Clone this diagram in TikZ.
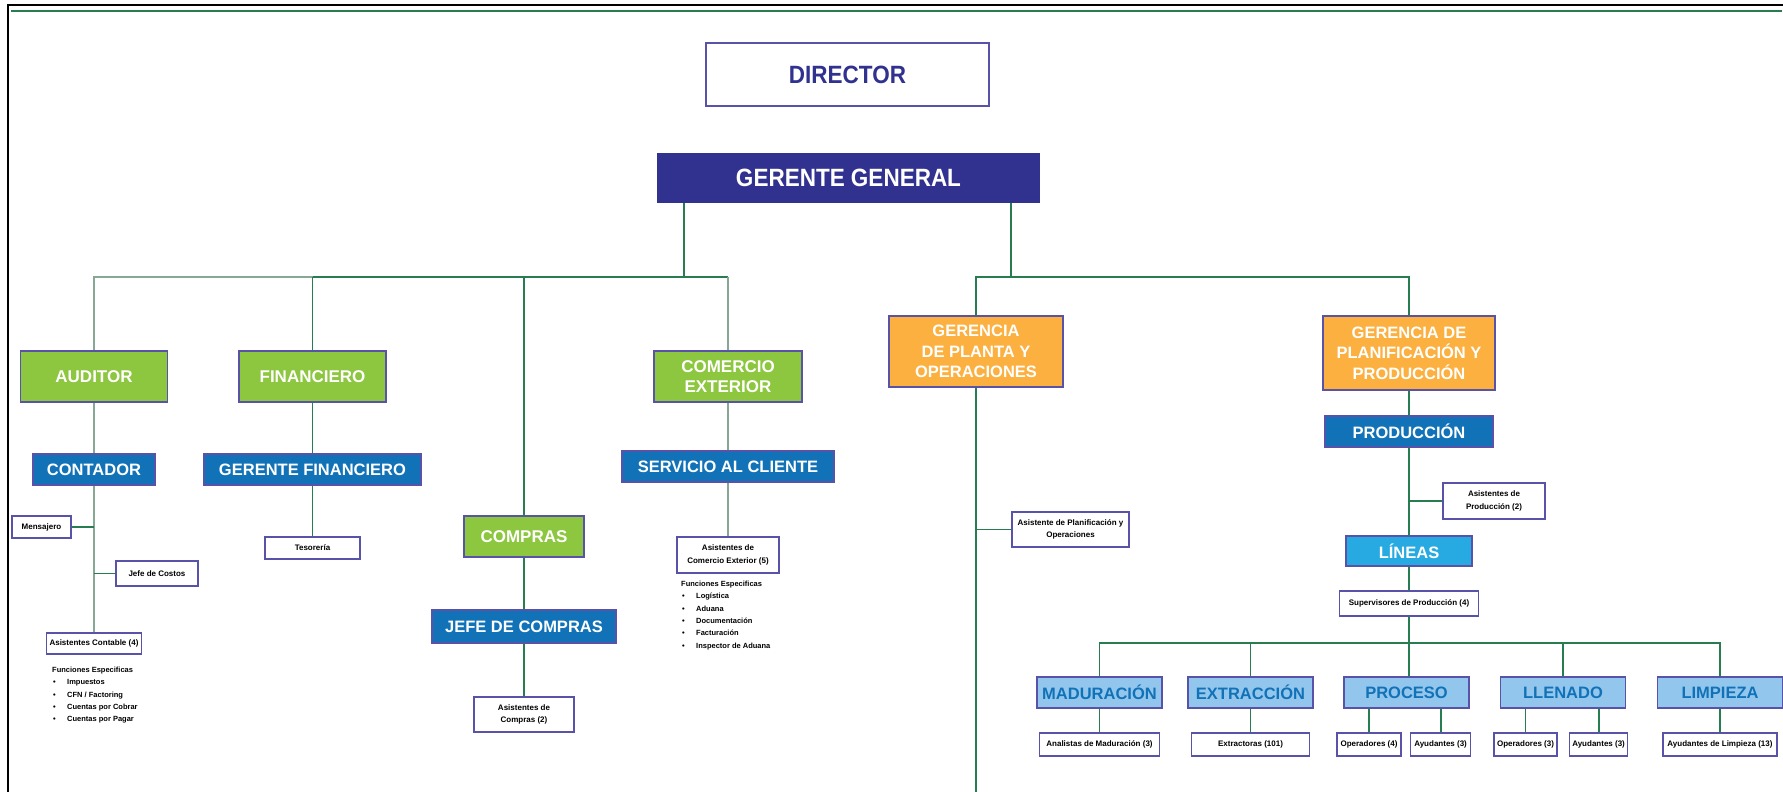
\documentclass[tikz,border=0pt]{standalone}
\usepackage{fontspec}
\setmainfont{Liberation Sans}
\newfontfamily\narrowfont[FakeStretch=0.9]{Liberation Sans}
\usetikzlibrary{positioning}

\definecolor{navy}{RGB}{49,49,143}
\definecolor{edge}{RGB}{88,82,168}
\definecolor{leaf}{RGB}{141,198,63}
\definecolor{azul}{RGB}{17,114,184}
\definecolor{naranja}{RGB}{251,176,64}
\definecolor{celeste}{RGB}{38,170,225}
\definecolor{claro}{RGB}{146,198,237}
\definecolor{verde}{RGB}{40,125,80}
\definecolor{gris}{RGB}{135,168,148}

\newcommand\topfont{\narrowfont\fontsize{25}{30}\selectfont\bfseries}
\newcommand\cajafont{\fontsize{16.5}{20.5}\selectfont\bfseries}
\newcommand\chicafont{\fontsize{8}{12.5}\selectfont\bfseries}
\newcommand\listafont{\fontsize{7.5}{12.3}\selectfont\bfseries}
\newcommand\punto{\hspace*{1pt}\makebox[14pt][l]{\textbullet}}

\begin{document}
\begin{tikzpicture}[x=1pt,y=-1pt,
  caja/.style={draw=edge,line width=1.6pt,inner sep=0pt,align=center},
  gcaja/.style={caja,fill=leaf,text=white,font=\fontsize{17}{20.5}\selectfont\bfseries},
  bcaja/.style={caja,fill=azul,text=white,font=\cajafont},
  ocaja/.style={caja,fill=naranja,text=white,font=\cajafont},
  lcaja/.style={caja,fill=claro,text=azul,font=\cajafont,minimum width=125pt,minimum height=31pt},
  wcaja/.style={caja,fill=white,text=black,font=\chicafont},
  hoja/.style={wcaja,minimum height=23pt},
  conn/.style={draw=verde,line width=1.8pt},
  connclaro/.style={draw=gris,line width=1.8pt}]
  \useasboundingbox (0,0) rectangle (1783,792);
  % marco
  \draw[line width=2.5pt] (8,792) -- (8,5) -- (1783,5);
  \draw[verde,line width=2.5pt] (11,11) -- (1782,11);

  \node[caja,fill=white,text=navy,font=\topfont,minimum width=283pt,minimum height=63pt] (director) at (847.5,74.5) {DIRECTOR};
  \node[caja,draw=navy,fill=navy,text=white,font=\topfont,minimum width=381pt,minimum height=48pt] (gerente) at (848.5,178) {GERENTE GENERAL};

  % rama administrativa
  \node[gcaja,minimum width=147pt,minimum height=51pt] (auditor) at (94,376.5) {AUDITOR};
  \node[gcaja,minimum width=147pt,minimum height=51pt] (financiero) at (312.5,376.5) {FINANCIERO};
  \node[gcaja,minimum width=148pt,minimum height=51pt] (comercio) at (728,376.5) {COMERCIO\\EXTERIOR};
  \node[gcaja,minimum width=120pt,minimum height=41pt] (compras) at (524,536.5) {COMPRAS};
  \node[bcaja,minimum width=122pt,minimum height=31pt] (contador) at (94,469.5) {CONTADOR};
  \node[bcaja,minimum width=217pt,minimum height=31pt] (gerfin) at (312.5,469.5) {GERENTE FINANCIERO};
  \node[bcaja,minimum width=212pt,minimum height=31pt] (servicio) at (728,466.5) {SERVICIO AL CLIENTE};
  \node[bcaja,minimum width=184pt,minimum height=33pt] (jefecompras) at (524,626.5) {JEFE DE COMPRAS};

  \node[wcaja,minimum width=59pt,minimum height=22pt] (mensajero) at (41.5,527) {Mensajero};
  \node[wcaja,minimum width=82pt,minimum height=25pt] (costos) at (157,573.5) {Jefe de Costos};
  \node[wcaja,minimum width=95pt,minimum height=21pt] (asiscont) at (94,643.5) {Asistentes Contable (4)};
  \node[wcaja,minimum width=95pt,minimum height=22pt] (tesoreria) at (312.5,548) {Tesorería};
  \node[wcaja,minimum width=100pt,minimum height=35pt] (asiscomp) at (524,714.5) {Asistentes de\\Compras (2)};
  \node[wcaja,minimum width=102pt,minimum height=36pt] (asiscom) at (728,555) {Asistentes de\\Comercio Exterior (5)};

  \node[anchor=north west,inner sep=0pt,align=left,font=\listafont] (funccont) at (52,667)
    {Funciones Especificas\\\punto Impuestos\\\punto CFN / Factoring\\\punto Cuentas por Cobrar\\\punto Cuentas por Pagar};
  \node[anchor=north west,inner sep=0pt,align=left,font=\listafont] (funccom) at (681,581)
    {Funciones Especificas\\\punto Logística\\\punto Aduana\\\punto Documentación\\\punto Facturación\\\punto Inspector de Aduana};

  % rama de planta
  \node[ocaja,minimum width=174pt,minimum height=71pt] (planta) at (976,351.5) {GERENCIA\\DE PLANTA Y\\OPERACIONES};
  \node[ocaja,minimum width=172pt,minimum height=74pt] (planif) at (1409,353) {GERENCIA DE\\PLANIFICACIÓN Y\\PRODUCCIÓN};
  \node[bcaja,minimum width=168pt,minimum height=31pt] (produccion) at (1409,431.5) {PRODUCCIÓN};
  \node[caja,fill=celeste,text=white,font=\cajafont,minimum width=126pt,minimum height=30pt] (lineas) at (1409,551) {LÍNEAS};
  \node[wcaja,minimum width=117pt,minimum height=35pt] (asisplan) at (1070.5,529.5) {Asistente de Planificación y\\Operaciones};
  \node[wcaja,minimum width=102pt,minimum height=36pt] (asisprod) at (1494,501) {Asistentes de\\Producción (2)};
  \node[wcaja,minimum width=139pt,minimum height=25pt] (superv) at (1409,603.5) {Supervisores de Producción (4)};

  \node[lcaja] (maduracion) at (1099.5,692.5) {MADURACIÓN};
  \node[lcaja] (extraccion) at (1250.5,692.5) {EXTRACCIÓN};
  \node[lcaja] (proceso) at (1406.5,692.5) {PROCESO};
  \node[lcaja] (llenado) at (1563,692.5) {LLENADO};
  \node[lcaja] (limpieza) at (1720,692.5) {LIMPIEZA};

  \node[hoja,minimum width=120pt] (analistas) at (1099.5,744.5) {Analistas de Maduración (3)};
  \node[hoja,minimum width=118pt] (extractoras) at (1250.5,744.5) {Extractoras (101)};
  \node[hoja,minimum width=64pt] (oper4) at (1369,744.5) {Operadores (4)};
  \node[hoja,minimum width=60pt,right=8pt of oper4] (ayud3a) {Ayudantes (3)};
  \node[hoja,minimum width=63pt] (oper3) at (1525.5,744.5) {Operadores (3)};
  \node[hoja,minimum width=58pt,right=11pt of oper3] (ayud3b) {Ayudantes (3)};
  \node[hoja,minimum width=114pt] (ayudlimp) at (1720,744.5) {Ayudantes de Limpieza (13)};

  \coordinate (busL) at (684,277);
  \coordinate (busR) at (1011,277);
  \coordinate (busB) at (1409,643);
  \coordinate (pie) at (976,792);

  \draw[conn] (gerente.south -| busL) -- (busL);
  \draw[conn] (gerente.south -| busR) -- (busR);
  \draw[connclaro] (auditor.north) -- (auditor.north |- busL) -- (financiero.north |- busL);
  \draw[conn] (financiero.north |- busL) -- (comercio.north |- busL);
  \draw[conn] (financiero.north) -- (financiero.north |- busL);
  \draw[conn] (compras.north) -- (compras.north |- busL);
  \draw[connclaro] (comercio.north) -- (comercio.north |- busL);
  \draw[conn] (planta.north) |- (planif.north |- busR) -- (planif.north);

  \draw[connclaro] (auditor) -- (contador) -- (asiscont);
  \draw[conn] (mensajero.east) -- (mensajero.east -| contador);
  \draw[conn] (costos.west) -- (costos.west -| contador);
  \draw[conn] (financiero) -- (gerfin) -- (tesoreria);
  \draw[connclaro] (comercio) -- (servicio) -- (asiscom);
  \draw[conn] (compras) -- (jefecompras) -- (asiscomp);

  \draw[conn] (planta) -- (pie);
  \draw[conn] (asisplan.west) -- (asisplan.west -| pie);
  \draw[conn] (planif) -- (produccion) -- (lineas) -- (superv);
  \draw[conn] (asisprod.west) -- (asisprod.west -| lineas);
  \draw[conn] (superv) -- (busB);
  \draw[conn] (maduracion.north) |- (limpieza.north |- busB) -- (limpieza.north);
  \draw[conn] (extraccion.north) -- (extraccion.north |- busB);
  \draw[conn] (busB) -- (busB |- proceso.north);
  \draw[conn] (llenado.north) -- (llenado.north |- busB);

  \draw[conn] (maduracion) -- (analistas);
  \draw[conn] (extraccion) -- (extractoras);
  \draw[conn] (oper4.north) -- (oper4.north |- proceso.south);
  \draw[conn] (ayud3a.north) -- (ayud3a.north |- proceso.south);
  \draw[conn] (oper3.north) -- (oper3.north |- llenado.south);
  \draw[conn] (ayud3b.north) -- (ayud3b.north |- llenado.south);
  \draw[conn] (limpieza) -- (ayudlimp);
\end{tikzpicture}
\end{document}
